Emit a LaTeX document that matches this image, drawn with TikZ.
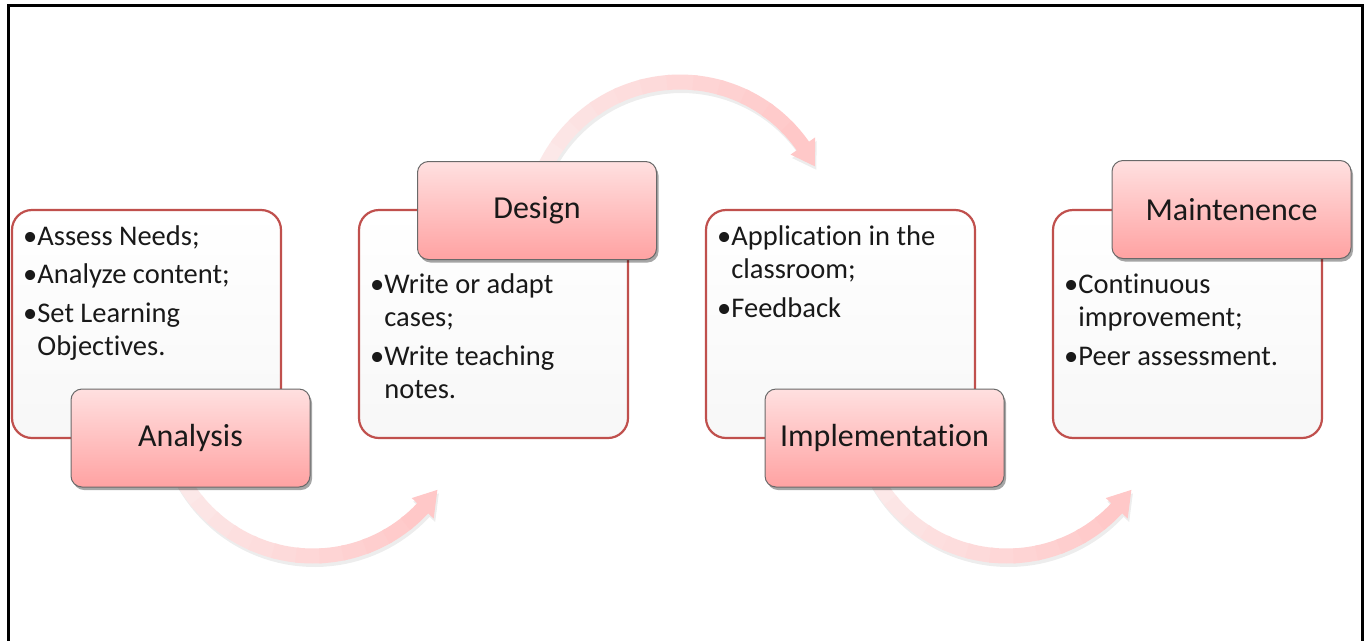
\documentclass[tikz,border=0pt]{standalone}
\usepackage{fontspec}
\setmainfont{Carlito}[Ligatures=NoCommon]
\usetikzlibrary{shadows,calc}
\definecolor{boxred}{RGB}{192,80,77}
\definecolor{ttop}{RGB}{255,224,224}
\definecolor{tbot}{RGB}{255,162,162}
\definecolor{tborder}{RGB}{105,105,105}
\definecolor{txt}{RGB}{25,25,25}
\definecolor{arrA}{RGB}{252,232,232}
\definecolor{arrB}{RGB}{255,200,200}
\tikzset{
 contentbox/.style={draw=boxred, line width=2.2pt, rounded corners=20pt, top color=white, bottom color=black!3, minimum width=269pt, minimum height=228pt, inner sep=0pt},
 titlebox/.style={draw=tborder, line width=1pt, rounded corners=11pt, top color=ttop, bottom color=tbot, minimum width=239pt, minimum height=98pt, inner sep=0pt, font=\fontsize{32}{38}\selectfont, text=txt, drop shadow={shadow xshift=2pt, shadow yshift=-3pt, opacity=0.35, fill=black}},
 bodytext/.style={anchor=base west, inner sep=0pt, font=\fontsize{28.5}{34}\selectfont, text=txt},
 frameline/.style={line width=3pt, draw=black},
}
% #1 centre, #2 start angle, #3 base angle of head, #4 tip angle
\newcommand\bandarrow[4]{%
  \begin{scope}[shift={(#1)}]
    \begin{scope}[shift={(1.5,3.5)}]
      \fill[black,opacity=0.07] plot[domain=#2:#3,samples=40] (\x:157.5) -- plot[domain=#3:#2,samples=40] (\x:142.5) -- cycle;
      \fill[black,opacity=0.07] (#3:165) -- (#4:150) -- (#3:135) -- cycle;
    \end{scope}
    \foreach \i in {0,...,11}{
      \pgfmathsetmacro\aa{#2+(#3-#2)*\i/12}
      \pgfmathsetmacro\bb{#2+(#3-#2)*(\i+1.15)/12}
      \pgfmathtruncatemacro\pc{100*\i/11}
      \fill[arrB!\pc!arrA] plot[domain=\aa:\bb,samples=6] (\x:157.5) -- plot[domain=\bb:\aa,samples=6] (\x:142.5) -- cycle;
    }
    \fill[arrB] (#3:165) -- (#4:150) -- (#3:135) -- cycle;
  \end{scope}
}
\begin{document}
\begin{tikzpicture}[x=1pt,y=-1pt]
\useasboundingbox (0,0) rectangle (1364,640);
\fill[white] (0,0) rectangle (1364,640);
\draw[frameline] (8,641) -- (8,5) -- (1362,5) -- (1362,641);

% arc centres of the connectors
\coordinate (c1) at (313,406);
\coordinate (c2) at (680,232);
\coordinate (c3) at (1007,406);
\bandarrow{c1}{150}{43}{34}
\bandarrow{c2}{-155}{-35}{-26}
\bandarrow{c3}{150}{43}{34}

% content boxes
\node[contentbox] (aBox) at (146.5,324) {};
\node[contentbox] (dBox) at (493.5,324) {};
\node[contentbox] (iBox) at (840.5,324) {};
\node[contentbox] (mBox) at (1187.5,324) {};

% title boxes
\node[titlebox] (aTitle) at (190.5,438) {Analysis};
\node[titlebox] (dTitle) at (537,210.5) {Design};
\node[titlebox] (iTitle) at (884.5,438) {Implementation};
\node[titlebox] (mTitle) at (1231.5,209.5) {Maintenence};

% body texts
\node[bodytext] (a1) at (23,245) {•Assess Needs;};
\node[bodytext] (a2) at (23,283.5) {•Analyze content;};
\node[bodytext] (a3) at (23,322) {•Set Learning};
\node[bodytext] (a4) at (23,355.5) {\phantom{•}Objectives.};

\node[bodytext] (d1) at (370,293) {•Write or adapt};
\node[bodytext] (d2) at (370,326.5) {\phantom{•}cases;};
\node[bodytext] (d3) at (370,365) {•Write teaching};
\node[bodytext] (d4) at (370,398.5) {\phantom{•}notes.};

\node[bodytext] (i1) at (717,245) {•Application in the};
\node[bodytext] (i2) at (717,278.5) {\phantom{•}classroom;};
\node[bodytext] (i3) at (717,317) {•Feedback};

\node[bodytext] (m1) at (1064,293) {•Continuous};
\node[bodytext] (m2) at (1064,326.5) {\phantom{•}improvement;};
\node[bodytext] (m3) at (1064,365) {•Peer assessment.};
\end{tikzpicture}
\end{document}
